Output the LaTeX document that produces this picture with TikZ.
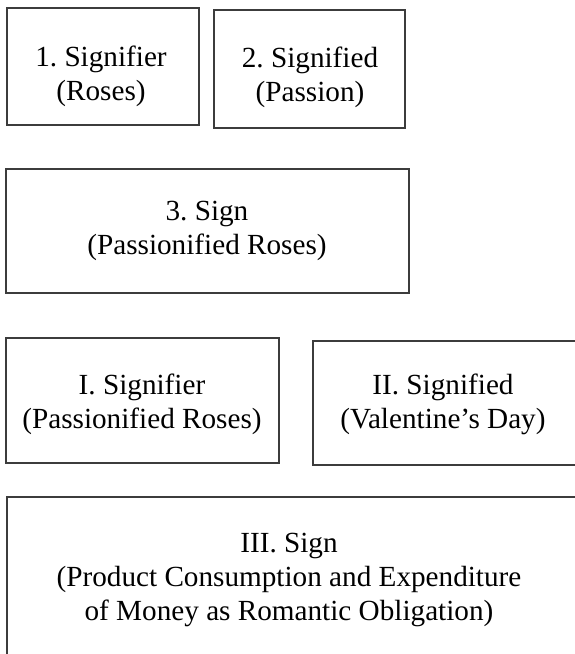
\documentclass[tikz,border=0pt]{standalone}
\usepackage{fontspec}
\setmainfont{Liberation Serif}
\usepackage{tikz}
\usetikzlibrary{positioning}
\usepackage{xcolor}
\definecolor{ink}{RGB}{60,60,60}
\tikzset{
  box/.style={draw=ink,line width=0.7pt,inner sep=0pt,fill=none},
  lbl/.style={align=center,inner sep=0pt,text=black,
    font=\fontsize{14.6pt}{17pt}\selectfont\frenchspacing},
}

\begin{document}
\begin{tikzpicture}[x=0.5pt,y=-0.5pt]
\useasboundingbox (0,0) rectangle (574,654);
% first order
\node[box,minimum width=96pt,minimum height=58.5pt] (sfr1) at (103,66.5) {};
\node[box,minimum width=95.5pt,minimum height=59pt] (sfd2) at (309.5,69) {};
\node[box,minimum width=201.5pt,minimum height=62pt] (sign3) at (207.5,231) {};
\node[lbl] (t1) at (101,76) {1. Signifier\\(Roses)};
\node[lbl] (t2) at (310,77) {2. Signified\\(Passion)};
\node[lbl] (t3) at (207,231) {3. Sign\\(Passionified Roses)};
% second order
\node[box,minimum width=136.5pt,minimum height=62.5pt] (sfrI) at (142.5,400.5) {};
\node[box,minimum width=133.5pt,minimum height=62pt] (sfdII) at (446.5,403) {};
\node[box,minimum width=286.5pt,minimum height=91.5pt] (signIII) at (293.5,588.5) {};
\node[lbl] (tI) at (142,404) {I. Signifier\\(Passionified Roses)};
\node[lbl] (tII) at (443,404) {II. Signified\\(Valentine’s Day)};
\node[lbl] (tIII) at (289,580) {III. Sign\\(Product Consumption and Expenditure\\of Money as Romantic Obligation)};
\end{tikzpicture}
\end{document}
